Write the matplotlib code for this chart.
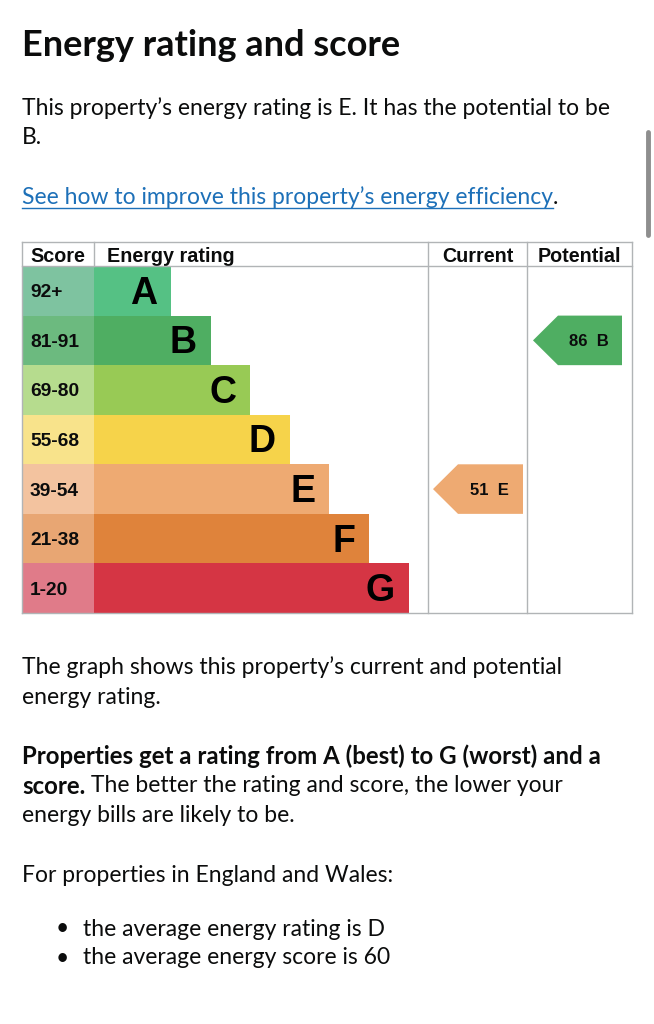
import matplotlib
matplotlib.use('Agg')
import matplotlib.pyplot as plt
from matplotlib.patches import Polygon

# ---- data ----
bands = ['A', 'B', 'C', 'D', 'E', 'F', 'G']
score_ranges = ['92+', '81-91', '69-80', '55-68', '39-54', '21-38', '1-20']
band_colors = ['#55c184', '#4fae62', '#98ca55', '#f6d34a', '#eeaa72', '#df833b', '#d53544']
score_colors = ['#7ec3a0', '#6cba7f', '#b6dc8e', '#f8e38b', '#f3c39f', '#e8a673', '#e07b89']
current_score, current_band = 51, 'E'
potential_score, potential_band = 86, 'B'
headers = ['Score', 'Energy rating', 'Current', 'Potential']

W, H = 654, 1024
fig = plt.figure(figsize=(W / 100, H / 100), dpi=100)
fig.patch.set_facecolor('white')

def px(x, y):
    return x / W, 1 - y / H

body = 'Lato'
ink = '#0b0c0c'
link = '#1d70b8'
grey = '#b1b4b6'
fs = 16.5
fsb = 17.3

# ---- text above chart ----
fig.text(*px(22, 46), 'Energy rating and score', fontsize=26, fontweight='bold',
         family=body, color=ink, va='center')
fig.text(*px(22, 108), 'This property\u2019s energy rating is E. It has the potential to be',
         fontsize=fs, family=body, color=ink, va='center')
fig.text(*px(22, 138), 'B.', fontsize=fs, family=body, color=ink, va='center')
lnk = fig.text(*px(22, 197), 'See how to improve this property\u2019s energy efficiency',
               fontsize=fs, family=body, color=link, va='center')
fig.canvas.draw()
r = fig.canvas.get_renderer()
bb = lnk.get_window_extent(r)
fig.add_artist(plt.Line2D([bb.x0 / W, bb.x1 / W], [1 - 208 / H] * 2, color=link, lw=1.0,
                          transform=fig.transFigure))
fig.text(bb.x1 / W, 1 - 197 / H, '.', fontsize=fs, family=body, color=ink, va='center')

# scrollbar
fig.add_artist(plt.Line2D([648 / W] * 2, [1 - 132 / H, 1 - 235 / H], color='#8e8e8e', lw=3.5,
                          solid_capstyle='round', transform=fig.transFigure))

# ---- chart table ----
left, top, right, bottom = 22, 242, 632, 613
ax = fig.add_axes([left / W, 1 - bottom / H, (right - left) / W, (bottom - top) / H])
tw = right - left
hdr = 24 / 49.5
ax.set_xlim(0, tw)
ax.set_ylim(len(bands) - 0.5, -0.5 - hdr)
ax.axis('off')

score_w = 72
cur_x0, pot_x0 = 406, 505
bar_len = [77 + 39.6 * i for i in range(len(bands))]

ax.barh(range(len(bands)), [score_w] * len(bands), left=0, height=1.0, color=score_colors)
ax.barh(range(len(bands)), bar_len, left=score_w, height=1.0, color=band_colors)

for i, b in enumerate(bands):
    ax.text(8, i + 0.04, score_ranges[i], fontsize=13.8, fontweight='bold', family='Liberation Sans',
            va='center', ha='left', color=ink)
    ax.text(score_w + bar_len[i] - 14, i + 0.06, b, fontsize=27, fontweight='bold',
            family='Liberation Sans', va='center', ha='right', color='black')

hy = -0.5 - hdr / 2 + 0.06
hkw = dict(fontsize=14.2, fontweight='bold', family='Liberation Sans', va='center', color=ink)
ax.text(8, hy, headers[0], **hkw)
ax.text(score_w + 13, hy, headers[1], **hkw)
ax.text((cur_x0 + pot_x0) / 2, hy, headers[2], ha='center', **hkw)
ax.text((pot_x0 + tw) / 2, hy, headers[3], ha='center', **hkw)

# grid lines
lkw = dict(color=grey, lw=1.0, zorder=5, clip_on=False)
ax.plot([0, tw], [-0.5 - hdr] * 2, **lkw)
ax.plot([0, tw], [-0.5] * 2, **lkw)
ax.plot([0, tw], [len(bands) - 0.5] * 2, **lkw)
ax.plot([0, 0], [-0.5 - hdr, len(bands) - 0.5], **lkw)
ax.plot([tw - 0.5, tw - 0.5], [-0.5 - hdr, len(bands) - 0.5], **lkw)
ax.plot([score_w, score_w], [-0.5 - hdr, -0.5], **lkw)
ax.plot([cur_x0, cur_x0], [-0.5 - hdr, len(bands) - 0.5], **lkw)
ax.plot([pot_x0, pot_x0], [-0.5 - hdr, len(bands) - 0.5], **lkw)

def arrow(x0, x1, band, score):
    i = bands.index(band)
    tip = 25
    poly = Polygon([(x0, i), (x0 + tip, i - 0.5), (x1, i - 0.5), (x1, i + 0.5), (x0 + tip, i + 0.5)],
                   closed=True, color=band_colors[i], lw=0)
    ax.add_patch(poly)
    ax.text((x0 + tip + x1) / 2 - 1, i + 0.03, f'{score}  {band}', fontsize=12, fontweight='bold',
            family='Liberation Sans', va='center', ha='center', color=ink)

arrow(411, 501, current_band, current_score)
arrow(511, 600, potential_band, potential_score)

# ---- text below chart ----
fig.text(*px(22, 667), 'The graph shows this property\u2019s current and potential',
         fontsize=fs, family=body, color=ink, va='center')
fig.text(*px(22, 697), 'energy rating.', fontsize=fs, family=body, color=ink, va='center')
fig.text(*px(22, 756), 'Properties get a rating from A (best) to G (worst) and a',
         fontsize=fsb, fontweight='bold', family=body, color=ink, va='center')
sc = fig.text(*px(22, 786), 'score.', fontsize=fsb, fontweight='bold', family=body, color=ink, va='center')
fig.canvas.draw()
bb = sc.get_window_extent(fig.canvas.get_renderer())
fig.text(bb.x1 / W, 1 - 786 / H, ' The better the rating and score, the lower your',
         fontsize=fs, family=body, color=ink, va='center')
fig.text(*px(22, 816), 'energy bills are likely to be.', fontsize=fs, family=body, color=ink, va='center')
fig.text(*px(22, 875), 'For properties in England and Wales:', fontsize=fs, family=body, color=ink, va='center')
for y, s in [(929, 'the average energy rating is D'), (958, 'the average energy score is 60')]:
    fig.text(*px(56, y), '\u2022', fontsize=fs, family=body, color=ink, va='center')
    fig.text(*px(83, y), s, fontsize=fs, family=body, color=ink, va='center')

fig.savefig('out.png', dpi=100, facecolor='white')
